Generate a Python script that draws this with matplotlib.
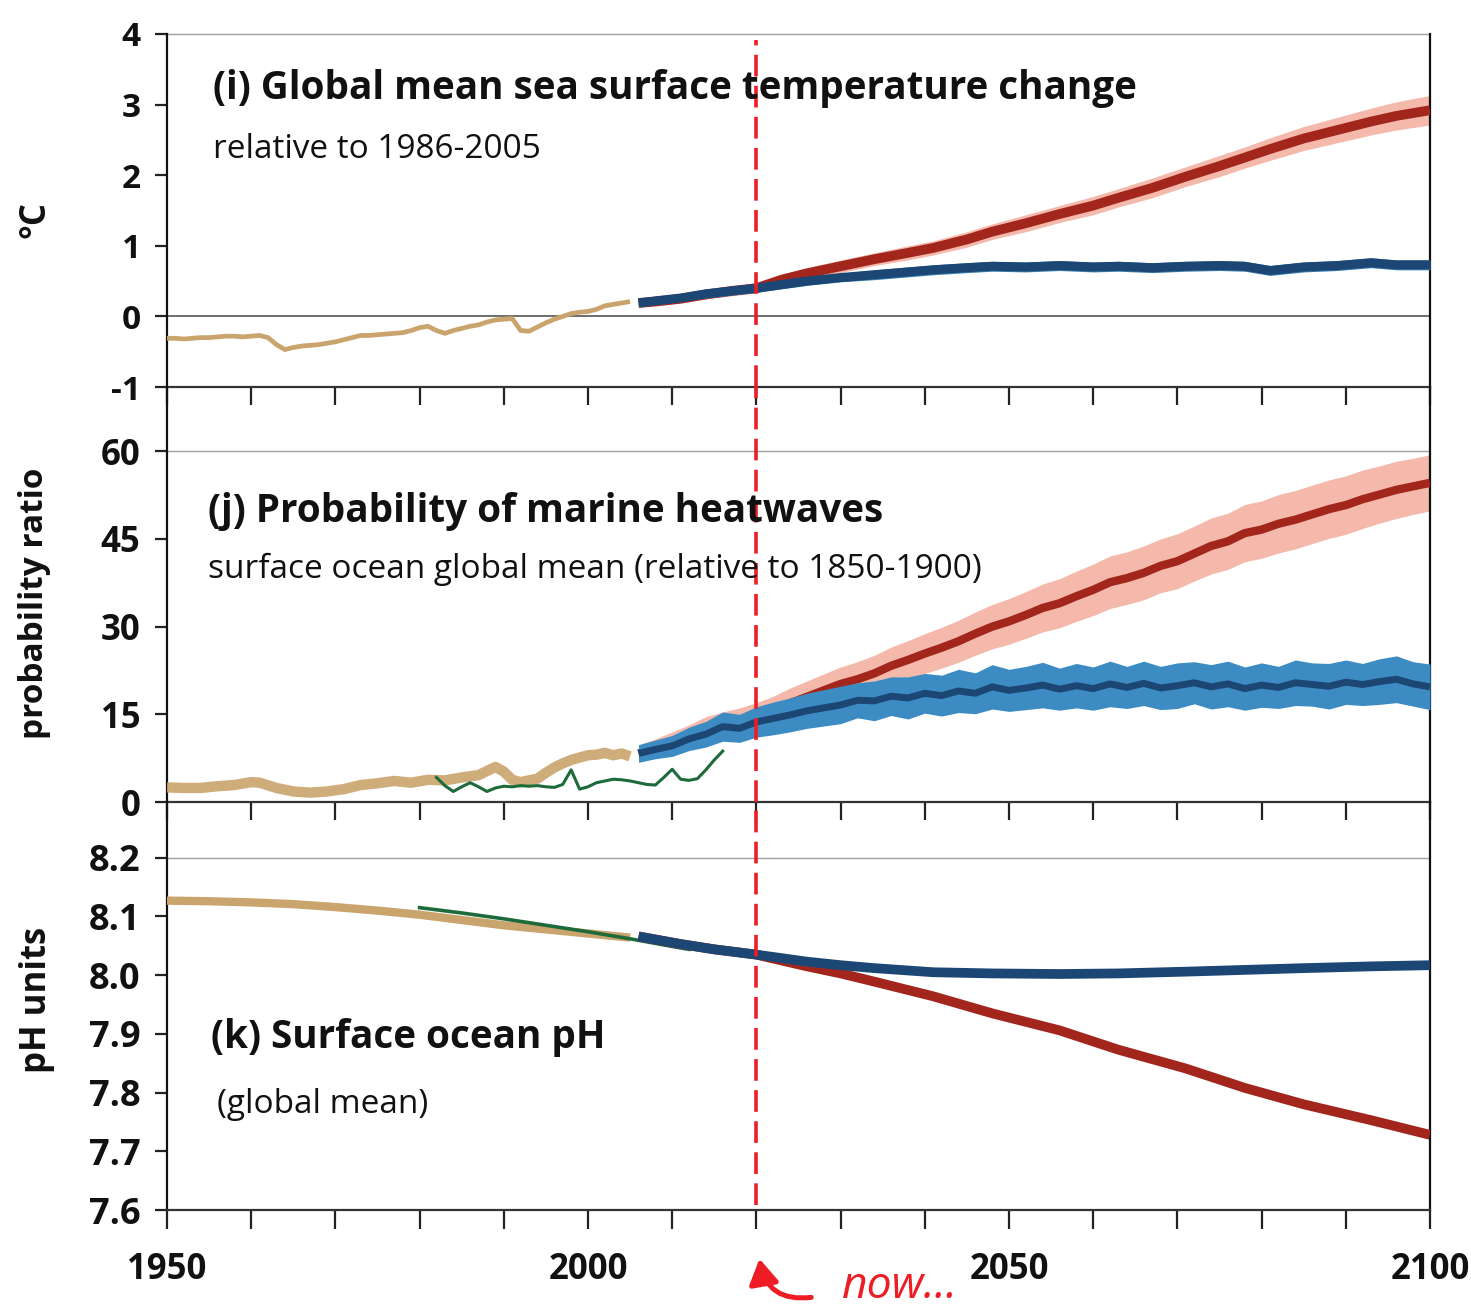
import numpy as np
import matplotlib
matplotlib.use("Agg")
import matplotlib.pyplot as plt
from matplotlib.patches import FancyArrowPatch

plt.rcParams['font.family'] = ['Open Sans', 'DejaVu Sans']
plt.rcParams['axes.unicode_minus'] = False

W, H, DPI = 1471, 1311, 100

# ------------------------------------------------------------------ data
# (i) Global mean sea surface temperature change (degC, rel. 1986-2005)
sst_hist_years = list(range(1950, 2006))
sst_hist = [-0.31, -0.31, -0.32, -0.31, -0.30, -0.30, -0.29, -0.28, -0.28, -0.29,
            -0.28, -0.27, -0.30, -0.40, -0.47, -0.44, -0.42, -0.41, -0.40, -0.38,
            -0.36, -0.33, -0.30, -0.27, -0.27, -0.26, -0.25, -0.24, -0.23, -0.20,
            -0.16, -0.14, -0.20, -0.24, -0.20, -0.17, -0.14, -0.12, -0.08, -0.05,
            -0.04, -0.03, -0.20, -0.21, -0.15, -0.09, -0.04, 0.00, 0.04, 0.06,
            0.07, 0.10, 0.15, 0.17, 0.19, 0.21]

sst_proj_years = [2006, 2008, 2011, 2014, 2017, 2020, 2023, 2026, 2030, 2034, 2038, 2041, 2045, 2048,
                  2052, 2056, 2060, 2063, 2067, 2071, 2075, 2078, 2081, 2085, 2089, 2093, 2096, 2100]
sst_rcp26 = [0.19, 0.22, 0.26, 0.32, 0.36, 0.40, 0.45, 0.50, 0.55, 0.59, 0.63, 0.66, 0.69, 0.71,
             0.70, 0.72, 0.70, 0.71, 0.69, 0.71, 0.72, 0.71, 0.65, 0.70, 0.72, 0.76, 0.73, 0.73]
sst_rcp26_spread = [0.05, 0.05, 0.05, 0.06, 0.06, 0.06, 0.06, 0.06, 0.06, 0.07, 0.07, 0.07, 0.07, 0.07,
                    0.07, 0.07, 0.07, 0.07, 0.07, 0.07, 0.07, 0.07, 0.07, 0.07, 0.07, 0.07, 0.07, 0.07]
sst_rcp85 = [0.19, 0.21, 0.25, 0.31, 0.36, 0.40, 0.52, 0.61, 0.71, 0.81, 0.90, 0.97, 1.09, 1.20,
             1.32, 1.45, 1.57, 1.68, 1.82, 1.98, 2.13, 2.25, 2.37, 2.52, 2.64, 2.76, 2.84, 2.92]
sst_rcp85_spread = [0.05, 0.05, 0.06, 0.06, 0.07, 0.07, 0.08, 0.08, 0.09, 0.09, 0.10, 0.10, 0.11, 0.11,
                    0.12, 0.12, 0.13, 0.13, 0.14, 0.14, 0.15, 0.15, 0.16, 0.17, 0.18, 0.19, 0.20, 0.21]

# (j) Probability ratio of marine heatwaves
mhw_hist_years = [1950, 1952, 1954, 1956, 1958, 1960, 1961, 1963, 1965, 1967, 1969, 1971, 1973,
                  1975, 1977, 1979, 1981, 1983, 1985, 1987, 1988, 1989, 1990, 1991, 1992, 1993,
                  1994, 1995, 1996, 1997, 1998, 1999, 2000, 2001, 2002, 2003, 2004, 2005]
mhw_hist = [2.5, 2.4, 2.4, 2.7, 2.9, 3.4, 3.3, 2.4, 1.8, 1.6, 1.8, 2.2, 2.9,
            3.2, 3.6, 3.3, 3.8, 3.7, 4.2, 4.6, 5.3, 6.0, 5.2, 3.8, 3.4, 3.7,
            4.0, 5.0, 5.9, 6.6, 7.2, 7.6, 8.0, 8.1, 8.4, 8.0, 8.3, 7.8]
mhw_obs_years = list(range(1982, 2017))
mhw_obs = [4.2, 2.8, 1.8, 2.6, 3.3, 2.6, 1.8, 2.4, 2.7, 2.6, 2.8, 2.7, 2.8, 2.6, 2.5,
           3.0, 5.5, 2.2, 2.6, 3.3, 3.6, 3.9, 3.8, 3.6, 3.3, 3.0, 2.9, 4.2, 5.6, 3.9,
           3.7, 4.0, 5.5, 7.2, 8.7]
mhw_proj_years = list(range(2006, 2101, 2))
mhw_rcp26 = [8.3, 9.0, 9.6, 10.8, 11.6, 12.9, 12.6, 13.7, 14.3, 14.9, 15.6, 16.1, 16.6, 17.4,
             17.3, 18.1, 17.8, 18.6, 18.2, 19.0, 18.6, 19.7, 19.1, 19.5, 20.0, 19.3, 19.9, 19.4,
             20.2, 19.6, 20.3, 19.5, 19.9, 20.4, 19.7, 20.2, 19.4, 20.0, 19.6, 20.4, 20.1, 19.8,
             20.5, 20.1, 20.6, 21.0, 20.2, 19.7]
mhw_rcp26_spread = [1.5, 1.6, 1.8, 2.0, 2.2, 2.5, 2.4, 2.6, 2.8, 2.9, 3.0, 3.1, 3.2, 3.0,
                    3.4, 3.3, 3.6, 3.4, 3.5, 3.7, 3.5, 3.8, 3.6, 3.7, 3.9, 3.6, 3.8, 3.7,
                    3.9, 3.6, 3.8, 3.7, 3.9, 3.6, 3.8, 3.9, 3.7, 3.8, 3.6, 3.9, 3.7, 3.9,
                    3.8, 3.6, 3.9, 4.0, 3.8, 3.9]
mhw_rcp85 = [8.3, 9.2, 10.2, 11.2, 12.5, 13.2, 13.8, 14.6, 15.6, 16.9, 18.0, 19.1, 20.2, 21.0,
             22.0, 23.3, 24.3, 25.4, 26.4, 27.5, 28.8, 30.0, 30.9, 32.0, 33.2, 34.0, 35.2, 36.3,
             37.6, 38.3, 39.2, 40.4, 41.2, 42.5, 43.8, 44.6, 46.0, 46.6, 47.6, 48.3, 49.2, 50.1,
             50.8, 51.8, 52.6, 53.4, 54.0, 54.6]
mhw_rcp85_spread = [1.5, 1.6, 1.8, 2.0, 2.1, 2.2, 2.3, 2.4, 2.5, 2.6, 2.7, 2.8, 2.9, 3.0,
                    3.1, 3.2, 3.3, 3.4, 3.5, 3.6, 3.7, 3.8, 3.9, 4.0, 4.1, 4.2, 4.3, 4.4,
                    4.5, 4.5, 4.6, 4.6, 4.7, 4.7, 4.8, 4.8, 4.9, 4.9, 5.0, 5.0, 5.0, 5.0,
                    5.0, 5.0, 4.9, 4.9, 4.8, 4.8]

# (k) Surface ocean pH
ph_hist_years = [1950, 1955, 1960, 1965, 1970, 1975, 1980, 1985, 1990, 1995, 2000, 2005]
ph_hist = [8.127, 8.126, 8.124, 8.121, 8.116, 8.110, 8.103, 8.094, 8.085, 8.078, 8.071, 8.064]
ph_obs_years = [1980, 1985, 1990, 1995, 2000, 2005, 2010, 2012]
ph_obs = [8.115, 8.106, 8.096, 8.085, 8.074, 8.062, 8.049, 8.044]
ph_proj_years = [2006, 2011, 2015, 2020, 2026, 2030, 2034, 2041, 2048, 2056, 2063, 2071, 2078, 2085, 2093, 2100]
ph_rcp26 = [8.066, 8.053, 8.044, 8.035, 8.023, 8.017, 8.012, 8.005, 8.003, 8.002, 8.003, 8.006,
            8.009, 8.012, 8.015, 8.017]
ph_rcp85 = [8.066, 8.053, 8.044, 8.035, 8.015, 8.003, 7.989, 7.964, 7.935, 7.906, 7.873, 7.841,
            7.808, 7.780, 7.753, 7.728]

sst_yticks = [-1, 0, 1, 2, 3, 4]
mhw_yticks = [0, 15, 30, 45, 60]
ph_yticks = [7.6, 7.7, 7.8, 7.9, 8.0, 8.1, 8.2]
ph_yticklabels = ['7.6', '7.7', '7.8', '7.9', '8.0', '8.1', '8.2']
year_major = [1950, 2000, 2050, 2100]
year_minor = list(range(1960, 2100, 10))
now_year = 2020

# ------------------------------------------------------------------ style
TAN = '#c9a46c'
GREEN = '#1d6b3a'
NAVY = '#1c4674'
BLUE_BAND1 = '#3a7fae'
BLUE_BAND2 = '#3c8cc3'
RED = '#a3261d'
PINK = '#f5b9ac'
NOWRED = '#ee1c24'
GRID = '#a0a0a0'
INK = '#111111'


def F(x, y):
    return (x / W, 1 - y / H)


fig = plt.figure(figsize=(W / DPI, H / DPI), dpi=DPI)
fig.patch.set_facecolor('white')

X0, X1 = 167, 1430


def make_ax(top, bot):
    return fig.add_axes([X0 / W, 1 - bot / H, (X1 - X0) / W, (bot - top) / H])


ax1 = make_ax(34, 387)
ax2 = make_ax(387, 802)
ax3 = make_ax(802, 1210)

for ax in (ax1, ax2, ax3):
    ax.set_xlim(1950, 2100)
    ax.spines['top'].set_visible(False)
    for s in ('left', 'right'):
        ax.spines[s].set_linewidth(1.6)
        ax.spines[s].set_color(INK)
    ax.spines['bottom'].set_linewidth(1.6)
    ax.spines['bottom'].set_color('#333333')
    ax.set_facecolor('none')
    ax.set_xticks(year_major)
    ax.set_xticks(year_minor, minor=True)
    ax.tick_params(axis='x', which='both', direction='out', length=13, width=1.6,
                   color='#222222', labelsize=25, pad=16)
    ax.tick_params(axis='y', direction='out', length=9, width=1.6, color='#222222',
                   labelsize=24, pad=10)

ax1.tick_params(axis='x', labelbottom=False)
ax2.tick_params(axis='x', labelbottom=False)
ax2.tick_params(axis='y', labelsize=25)
ax3.tick_params(axis='y', labelsize=26)

# ---- panel (i)
ax1.set_ylim(-1, 4)
ax1.set_yticks(sst_yticks)
ax1.axhline(4, color=GRID, lw=1.0, clip_on=False, zorder=1)
ax1.axhline(0, color='#555555', lw=1.2, zorder=1)
ax1.plot(sst_hist_years, sst_hist, color=TAN, lw=3.4, solid_capstyle='butt', zorder=3)
y85 = np.array(sst_rcp85); s85 = np.array(sst_rcp85_spread)
y26 = np.array(sst_rcp26); s26 = np.array(sst_rcp26_spread)
ax1.fill_between(sst_proj_years, y85 - s85, y85 + s85, color=PINK, lw=0, zorder=2)
ax1.plot(sst_proj_years, sst_rcp85, color=RED, lw=7, solid_capstyle='butt', zorder=3)
ax1.fill_between(sst_proj_years, y26 - s26, y26 + s26, color=BLUE_BAND1, lw=0, zorder=4)
ax1.plot(sst_proj_years, sst_rcp26, color=NAVY, lw=6.5, solid_capstyle='butt', zorder=5)

# ---- panel (j)
ax2.set_ylim(0, 71)
ax2.set_yticks(mhw_yticks)
ax2.axhline(60, color=GRID, lw=1.0, zorder=1)
ax2.plot(mhw_hist_years, mhw_hist, color=TAN, lw=7.5, alpha=0.9, solid_capstyle='butt', zorder=3)
m85 = np.array(mhw_rcp85); d85 = np.array(mhw_rcp85_spread)
m26 = np.array(mhw_rcp26); d26 = np.array(mhw_rcp26_spread)
ax2.fill_between(mhw_proj_years, m85 - d85, m85 + d85, color=PINK, lw=0, zorder=2)
ax2.plot(mhw_proj_years, mhw_rcp85, color=RED, lw=6, solid_capstyle='butt', zorder=3)
ax2.fill_between(mhw_proj_years, m26 - d26, m26 + d26, color=BLUE_BAND2, lw=0, zorder=4)
ax2.plot(mhw_proj_years, mhw_rcp26, color=NAVY, lw=5, solid_capstyle='butt', zorder=5)
ax2.plot(mhw_obs_years, mhw_obs, color=GREEN, lw=2.2, zorder=6)

# ---- panel (k)
ax3.set_ylim(7.6, 8.295)
ax3.set_yticks(ph_yticks)
ax3.set_yticklabels(ph_yticklabels)
ax3.axhline(8.2, color=GRID, lw=1.0, zorder=1)
ax3.plot(ph_hist_years, ph_hist, color=TAN, lw=6, solid_capstyle='butt', zorder=3)
ax3.plot(ph_obs_years, ph_obs, color=GREEN, lw=2.6, zorder=4)
ax3.plot(ph_proj_years, ph_rcp85, color=RED, lw=7, solid_capstyle='butt', zorder=5)
ax3.plot(ph_proj_years, ph_rcp26, color=NAVY, lw=7, solid_capstyle='butt', zorder=6)
ax3.tick_params(axis='x', which='both', length=14)

for ax in (ax1, ax2, ax3):
    for lbl in ax.get_yticklabels() + ax.get_xticklabels():
        lbl.set_fontweight('bold')
        lbl.set_color(INK)

# ---- "now" dashed line
NOW_KW = dict(color=NOWRED, lw=2.6, dashes=(6.0, 2.6), zorder=10)
ax1.axvline(now_year, ymin=0, ymax=0.983, **NOW_KW)
ax2.axvline(now_year, **NOW_KW)
ax3.axvline(now_year, ymin=0.012, ymax=1, **NOW_KW)

# ---- titles
fig.text(*F(213, 99), '(i) Global mean sea surface temperature change', fontsize=27.8,
         fontweight='bold', color=INK, va='baseline', ha='left')
fig.text(*F(213, 158), 'relative to 1986-2005', fontsize=24, color=INK, va='baseline', ha='left')
fig.text(*F(208, 522), '(j) Probability of marine heatwaves', fontsize=27.8,
         fontweight='bold', color=INK, va='baseline', ha='left')
fig.text(*F(208, 578), 'surface ocean global mean (relative to 1850-1900)', fontsize=24,
         color=INK, va='baseline', ha='left')
fig.text(*F(211, 1048), '(k) Surface ocean pH', fontsize=27.8,
         fontweight='bold', color=INK, va='baseline', ha='left')
fig.text(*F(217, 1113), '(global mean)', fontsize=24, color=INK, va='baseline', ha='left')

# ---- y-axis labels
fig.text(*F(35, 220), '°C', rotation=90, fontsize=25, fontweight='bold', color=INK,
         ha='center', va='center')
fig.text(*F(35, 603), 'probability ratio', rotation=90, fontsize=24, fontweight='bold',
         color=INK, ha='center', va='center')
fig.text(*F(37, 1000), 'pH units', rotation=90, fontsize=25, fontweight='bold',
         color=INK, ha='center', va='center')

# ---- "now..." annotation
fig.text(*F(842, 1309), 'now...', fontsize=32, style='italic', color=NOWRED,
         ha='left', va='bottom')
arrow = FancyArrowPatch(F(814, 1297), F(759, 1256), transform=fig.transFigure,
                        arrowstyle='-|>,head_length=0.75,head_width=0.45',
                        connectionstyle='arc3,rad=-0.5', mutation_scale=20,
                        color=NOWRED, lw=3.6)
fig.add_artist(arrow)

fig.savefig('out.png', dpi=DPI, facecolor='white')
